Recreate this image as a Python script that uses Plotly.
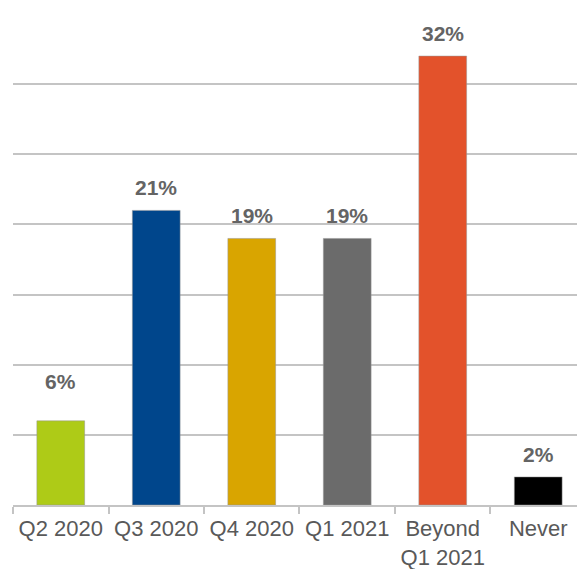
import plotly.graph_objects as go

# Expected timing of return, share of respondents
categories = ["Q2 2020", "Q3 2020", "Q4 2020", "Q1 2021", "Beyond<br>Q1 2021", "Never"]
shares = [6, 21, 19, 19, 32, 2]
bar_colors = ["#aecb17", "#00468c", "#d9a500", "#6b6b6b", "#e3522b", "#000000"]

text_color = "#595959"
label_color = "#646464"
grid_color = "#c4c4c4"

fig = go.Figure(
    go.Bar(
        x=categories,
        y=shares,
        marker=dict(color=bar_colors, line=dict(color="rgba(150,150,150,0.5)", width=1)),
        width=0.5,
        hoverinfo="skip",
    )
)

# Value labels above each bar (the short first bar gets its label lifted higher)
label_lift = {"Q2 2020": 26}
for cat, val in zip(categories, shares):
    fig.add_annotation(
        x=cat, y=val, text=f"<b>{val}%</b>", showarrow=False,
        yanchor="bottom", yshift=label_lift.get(cat, 9),
        font=dict(family="Liberation Sans, Arial, sans-serif", size=21, color=label_color),
    )

fig.update_layout(
    width=577, height=569,
    margin=dict(l=13, r=0, t=14, b=64, autoexpand=False),
    paper_bgcolor="white", plot_bgcolor="white",
    showlegend=False,
    font=dict(family="Liberation Sans, Arial, sans-serif", size=22, color=text_color),
    xaxis=dict(
        type="category",
        range=[-0.5, 5.406],
        tickson="boundaries",
        ticks="outside", ticklen=7, tickwidth=2, tickcolor=grid_color,
        showline=True, linecolor=grid_color, linewidth=2,
        showgrid=False,
        automargin=False,
        tickfont=dict(size=22, color=text_color),
        ticklabelstandoff=3,
    ),
    yaxis=dict(
        range=[0, 35],
        dtick=5,
        showticklabels=False,
        showgrid=True, gridcolor=grid_color, gridwidth=2,
        zeroline=False,
        showline=False,
        automargin=False,
    ),
)

fig.write_html("out.html")
